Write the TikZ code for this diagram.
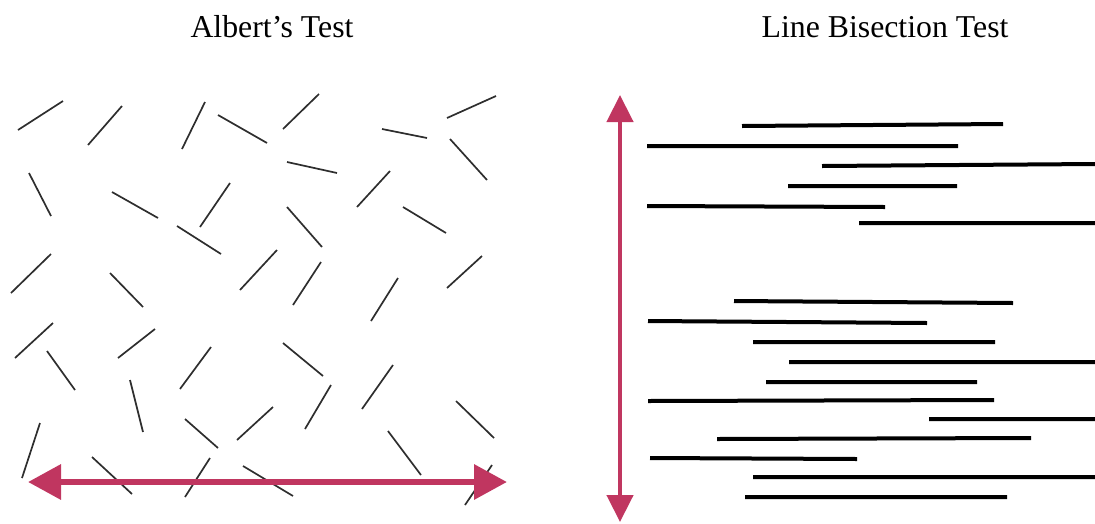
\documentclass[tikz,border=0pt]{standalone}
\usepackage{fontspec}
\setmainfont{Liberation Serif}
\usetikzlibrary{
    arrows.meta,
    positioning
}
\definecolor{testpink}{RGB}{192,54,96}

\begin{document}
\begin{tikzpicture}[x=1pt, y=-1pt,
        title/.style={anchor=base, font=\fontsize{31.8}{38}\selectfont},
        stick/.style={line width=1.7pt, draw=black!82},
        bar/.style={line width=4pt, draw=black},
        span/.style={draw=testpink, line width=#1}]
        \useasboundingbox (0, 0) rectangle (1095, 523);

        \node[title] (albert) at (272, 37) {Albert’s Test};
        \node[title] (bisect) at (885, 37) {Line Bisection Test};

        \draw[stick]
        (18, 130) -- (63, 101)    (88, 145) -- (122, 106)   (182, 149) -- (205, 102)
        (218, 115) -- (267, 143)  (283, 129) -- (319, 94)   (382, 129) -- (427, 138)
        (447, 118) -- (496, 96)   (450, 139) -- (487, 180)  (287, 162) -- (337, 173)
        (357, 207) -- (390, 171)  (29, 173) -- (51, 216)    (112, 192) -- (158, 218)
        (200, 227) -- (230, 183)  (287, 207) -- (322, 247)  (403, 207) -- (446, 233)
        (177, 226) -- (221, 254)  (11, 293) -- (51, 254)    (110, 273) -- (143, 307)
        (240, 290) -- (277, 250)  (293, 305) -- (321, 262)  (371, 321) -- (398, 278)
        (447, 288) -- (482, 256)  (15, 358) -- (53, 323)    (118, 358) -- (155, 329)
        (180, 389) -- (211, 347)  (47, 351) -- (75, 390)    (283, 343) -- (323, 376)
        (362, 409) -- (393, 365)  (130, 380) -- (143, 432)  (305, 429) -- (331, 385)
        (456, 401) -- (494, 438)  (185, 419) -- (218, 448)  (237, 440) -- (273, 407)
        (22, 478) -- (40, 423)    (92, 457) -- (132, 494)   (185, 497) -- (210, 458)
        (243, 466) -- (293, 496)  (388, 431) -- (421, 475)  (465, 505) -- (492, 465);

        \draw[bar]
        (742, 126) -- (1003, 124)
        (647, 146) -- (958, 146)
        (822, 166) -- (1095, 164)
        (788, 186) -- (957, 186)
        (647, 206) -- (885, 207)
        (859, 223) -- (1095, 223)
        (734, 301) -- (1013, 303)
        (648, 321) -- (927, 323)
        (753, 342) -- (995, 342)
        (789, 362) -- (1095, 362)
        (766, 382) -- (977, 382)
        (648, 401) -- (994, 400)
        (929, 419) -- (1095, 419)
        (717, 439) -- (1031, 438)
        (650, 458) -- (857, 459)
        (753, 477) -- (1095, 477)
        (745, 497) -- (1007, 497);

        \coordinate (left) at (28, 482);
        \coordinate (right) at (507, 482);
        \coordinate (top) at (620, 95);
        \coordinate (bottom) at (620, 522);

        \draw[span=6.5pt, {Triangle[length=33pt, width=34pt]}-{Triangle[length=33pt, width=34pt]}]
        (left) -- (right);
        \draw[span=4.5pt, {Triangle[length=27pt, width=26pt]}-{Triangle[length=27pt, width=26pt]}]
        (top) -- (bottom);
    \end{tikzpicture}
\end{document}
